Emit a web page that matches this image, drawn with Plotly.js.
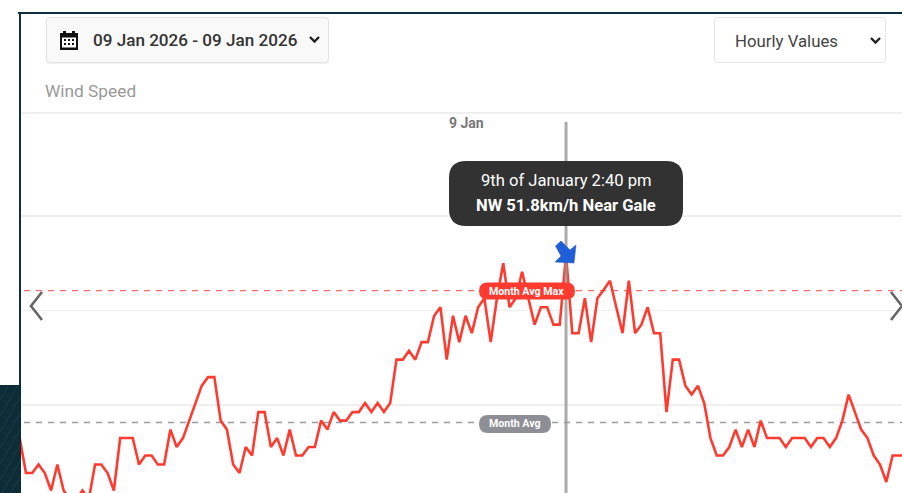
<!DOCTYPE html>
<html>
<head>
<meta charset="utf-8">
<script src="https://cdn.plot.ly/plotly-3.0.1.min.js"></script>
<style>
html,body{margin:0;padding:0;background:#fff;overflow:hidden;width:902px;height:493px;font-family:Roboto,sans-serif}
#chart{position:absolute;left:0;top:0;width:902px;height:493px}
.o{position:absolute;box-sizing:border-box}
#topline{left:18px;top:11.5px;width:884px;height:2px;background:#0f2f3c}
#leftline{left:18.5px;top:11.5px;width:2px;height:374px;background:#0f2f3c}
#band{left:0;top:385px;width:20.5px;height:108px;background:repeating-linear-gradient(120deg,#0c2c38 0 7px,#123a47 7px 8px)}
#datebtn{left:46px;top:17px;width:283px;height:46px;background:#f9f9f9;border:1px solid #e3e3e3;border-radius:4px;box-shadow:0 1px 1px rgba(0,0,0,.06)}
#datetxt{left:93px;top:29.5px;font-size:17.1px;font-weight:500;color:#333;line-height:20px;white-space:nowrap}
#hourbtn{left:714px;top:17px;width:172px;height:46px;background:#fff;border:1px solid #e6e6e6;border-radius:4px}
#hourtxt{left:735px;top:31px;font-size:16.8px;color:#444;line-height:20px;white-space:nowrap}
</style>
</head>
<body>
<div id="chart"></div>
<div class="o" id="topline"></div>
<div class="o" id="leftline"></div>
<div class="o" id="band"></div>
<div class="o" id="datebtn"></div>
<svg class="o" style="left:58px;top:29px" width="22" height="22" viewBox="0 0 22 22">
  <path d="M2 4h3V2h3v2h6V2h3v2h3v17H2z" fill="#111"/>
  <rect x="4" y="8.5" width="14" height="10" fill="#fff"/>
  <path d="M6 10h2v2H6zm4 0h2v2h-2zm4 0h2v2h-2zM6 14h2v2H6zm4 0h2v2h-2zm4 0h2v2h-2z" fill="#111"/>
</svg>
<div class="o" id="datetxt">09 Jan 2026 - 09 Jan 2026</div>
<svg class="o" style="left:308px;top:35px" width="13" height="9" viewBox="0 0 13 9"><path d="M2 2l4.5 4.5L11 2" fill="none" stroke="#222" stroke-width="2.4"/></svg>
<div class="o" id="hourbtn"></div>
<div class="o" id="hourtxt">Hourly Values</div>
<svg class="o" style="left:869px;top:36px" width="13" height="9" viewBox="0 0 13 9"><path d="M2 2l4.5 4.5L11 2" fill="none" stroke="#222" stroke-width="2.4"/></svg>
<script>
// Wind speed in km/h, one reading every 10 minutes starting 00:10 on 9 Jan 2026
const windSpeed = [
 13.0,5.6,5.6,7.4,5.6,1.9,7.4,1.9,0,0,
 1.9,0,7.4,7.4,5.6,1.9,13.0,13.0,13.0,7.4,
 9.3,9.3,7.4,7.4,14.8,11.1,13.0,16.7,20.4,24.1,
 25.9,25.9,16.7,14.8,7.4,5.6,11.1,9.3,18.5,18.5,
 11.1,13.0,9.3,14.8,9.3,9.3,11.1,11.1,16.7,14.8,
 18.5,16.7,16.7,18.5,18.5,20.4,18.5,20.4,18.5,20.4,
 29.6,29.6,31.5,29.6,33.3,33.3,38.9,40.7,29.6,38.9,
 33.3,38.9,35.2,40.7,42.6,33.3,42.6,50.0,40.7,42.6,
 48.2,42.6,37.0,40.7,40.7,37.0,37.0,51.8,35.2,35.2,
 42.6,33.3,42.6,44.4,46.3,40.7,35.2,46.3,35.2,37.0,
 40.7,35.2,35.2,18.5,29.6,29.6,24.1,22.2,24.1,20.4,
 13.0,9.3,9.3,11.1,14.8,11.1,14.8,11.1,16.7,13.0,
 13.0,13.0,11.1,13.0,13.0,13.0,11.1,13.0,13.0,11.1,
 13.0,16.7,22.2,18.5,14.8,13.0,9.3,7.4,3.7,9.3,9.3,9.3
];
const dayStart = Date.UTC(2026,0,9);
const stepMinutes = 10;
const times = windSpeed.map((_,i)=>dayStart+(i+1)*stepMinutes*60000);
const monthAvg = 16.3;
const monthAvgMax = 44.2;
const gridValues = [20,40,60];
const peakIndex = 87;
const tooltipLines = ['9th of January 2:40 pm','NW 51.8km/h Near Gale'];

// screen pixel helpers for decorations (plot area: x 20-902, y 113-493)
const W=902,H=493,L=20,T=113;
const px=x=>(x-L)/(W-L), py=y=>(H-y)/(H-T);
const P=pts=>pts.map(s=>{
  const c=s[0],r=s.slice(1),o=[];
  for(let i=0;i<r.length;i+=2)o.push(px(r[i])+','+py(r[i+1]));
  return c+o.join(' ');
}).join(' ');
const pill=(x0,y0,x1,y1,rad)=>P([['M',x0+rad,y0],['L',x1-rad,y0],['Q',x1,y0,x1,y0+rad],['L',x1,y1-rad],['Q',x1,y1,x1-rad,y1],['L',x0+rad,y1],['Q',x0,y1,x0,y1-rad],['L',x0,y0+rad],['Q',x0,y0,x0+rad,y0]])+' Z';
const pshape=(path,fill,extra)=>Object.assign({type:'path',xref:'paper',yref:'paper',path,fillcolor:fill,line:{width:0},layer:'above'},extra||{});
const hline=(v,color)=>({type:'line',xref:'paper',yref:'y',x0:px(24),x1:1,y0:v,y1:v,layer:'below',line:{color,width:1.3,dash:'6px,6px'}});
const chev=(pts)=>({type:'path',xref:'paper',yref:'paper',path:P(pts),layer:'above',line:{color:'#666',width:2.6}});

const shapes=[
 {type:'line',xref:'paper',yref:'paper',x0:0,x1:1,y0:1,y1:1,layer:'below',line:{color:'#eaeaea',width:1.5}},
 hline(monthAvgMax,'#ff6b6b'),
 hline(monthAvg,'#999aa0'),
 {type:'line',xref:'x',yref:'paper',x0:times[peakIndex],x1:times[peakIndex],y0:0,y1:py(122),layer:'above',line:{color:'rgba(150,150,150,0.8)',width:3}},
 pshape(pill(479,282.5,575,299.5,8.5),'#ff3b30'),
 pshape(pill(479,415,551,433,9),'#8e8e96'),
 pshape(pill(449,161,683,226,17),'rgba(42,42,42,0.96)'),
 pshape(P([['M',555.5,246],['L',561,241],['L',570,250],['L',576,245],['L',574,263],['L',555,262],['L',561,256],['L',555.5,246]])+' Z','#1f60d8',{line:{color:'#1a4fb0',width:0.5}}),
 chev([['M',42,292],['L',31,306],['L',42,320]]),
 chev([['M',891,292],['L',902,306],['L',891,320]])
];
const ann=(text,x,y,size,color,weight,anchor)=>({text,xref:'paper',yref:'paper',x:px(x),y:py(y),xanchor:anchor||'center',yanchor:'middle',showarrow:false,font:{family:'Roboto, sans-serif',size,color,weight:weight||400}});
const annotations=[
 ann('9 Jan',466,122.5,14,'#777',700),
 ann('Month Avg Max',526.5,291,10.6,'#fff',700),
 ann('Month Avg',515,423.5,10.6,'#fff',700),
 ann(tooltipLines[0],566,180,16.6,'#fff',400),
 ann(tooltipLines[1],566,205,16.6,'#fff',700)
];
Plotly.newPlot('chart',[{
  type:'scatter',mode:'lines',x:times,y:windSpeed,
  line:{color:'#ff3b30',width:2.6,shape:'linear'},hoverinfo:'skip',name:'Wind Speed'
}],{
  width:W,height:H,
  margin:{l:L,r:0,t:T,b:0,pad:0},
  paper_bgcolor:'#fff',plot_bgcolor:'#fff',
  showlegend:false,
  title:{text:'Wind Speed',x:45/W,xanchor:'left',xref:'container',y:1-91/H,yanchor:'middle',yref:'container',font:{family:'Roboto, sans-serif',size:17.3,color:'#999'}},
  xaxis:{type:'date',range:[dayStart+10.5*60000,dayStart+1415*60000],showgrid:false,showticklabels:false,ticks:'',zeroline:false,showline:false,fixedrange:true},
  yaxis:{range:[40-(H-310.5)/4.725,40+(310.5-T)/4.725],tickmode:'array',tickvals:gridValues,showticklabels:false,ticks:'',gridcolor:'#efefef',gridwidth:1.6,zeroline:false,showline:false,fixedrange:true},
  shapes,annotations
},{displayModeBar:false,staticPlot:true});
</script>
</body>
</html>
